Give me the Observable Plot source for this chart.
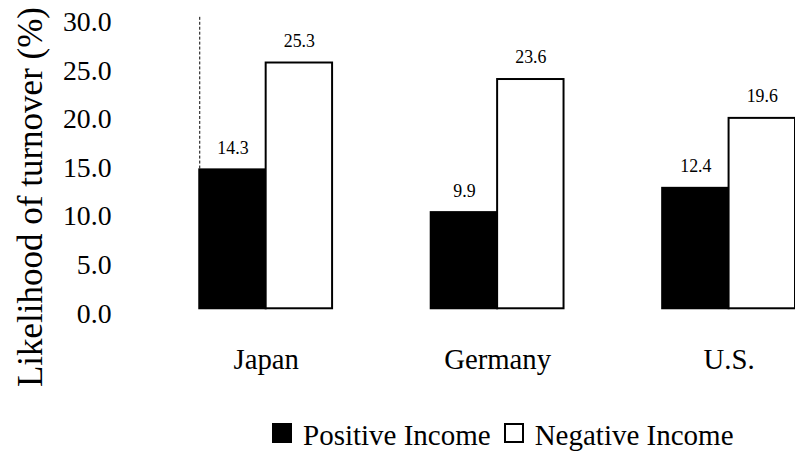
<!DOCTYPE html>
<html><head><meta charset="utf-8">
<script src="https://cdn.jsdelivr.net/npm/d3@7"></script>
<script src="https://cdn.jsdelivr.net/npm/@observablehq/plot@0.6"></script>
<style>
html,body{margin:0;padding:0;background:#fff;overflow:hidden;}
#wrap{position:relative;width:795px;height:456px;overflow:hidden;background:#fff;font-family:"Liberation Serif","Times New Roman",serif;color:#000;}
#legend{position:absolute;left:272px;top:421px;display:flex;align-items:flex-start;font-size:29px;line-height:29px;white-space:nowrap;}
#legend .sw{width:20px;height:20px;margin-top:2px;box-sizing:border-box;border:2px solid #000;}
#legend .lab{margin-left:11px;margin-right:13px;}
#ytitle{position:absolute;left:30px;top:197px;transform:translate(-50%,-50%) rotate(-90deg);font-size:35px;line-height:35px;white-space:nowrap;}
</style></head><body><div id="wrap"><div id="chart"></div><div id="ytitle"></div><div id="legend"></div></div>
<script>
const countries = ["Japan", "Germany", "U.S."];
const seriesNames = ["Positive Income", "Negative Income"];
const positiveIncome = [14.3, 9.9, 12.4];
const negativeIncome = [25.3, 23.6, 19.6];
const yTicks = [0, 5, 10, 15, 20, 25, 30];
const yTitle = "Likelihood of turnover (%)";
const seriesFill = ["#000000", "#ffffff"];

const rows = countries.flatMap((c, i) => [
  {country: c, series: seriesNames[0], value: positiveIncome[i]},
  {country: c, series: seriesNames[1], value: negativeIncome[i]}
]);

const chart = Plot.plot({
  width: 802, height: 400,
  marginLeft: 148, marginRight: 0, marginTop: 17, marginBottom: 89,
  style: {fontFamily: '"Liberation Serif", serif', color: "#000", background: "#fff", overflow: "visible"},
  fx: {domain: countries, paddingInner: 0.4261, paddingOuter: 0.1135, align: 1, round: false, label: null},
  x: {domain: seriesNames, padding: 0, round: false, axis: null},
  y: {domain: [0, 30], axis: null},
  color: {domain: seriesNames, range: seriesFill},
  marks: [
    Plot.frame({anchor: "left", facet: "super", strokeDasharray: "2,3", stroke: "#000"}),
    Plot.axisY(yTicks, {tickSize: 0, tickPadding: 89, tickFormat: d => d.toFixed(1), fontSize: 28, dy: 5, label: null}),
    Plot.axisFx({anchor: "bottom", tickSize: 0, tickPadding: 40, fontSize: 29, label: null}),
    Plot.barY(rows, {fx: "country", x: "series", y: "value", fill: "series", stroke: "#000", strokeWidth: 2}),
    Plot.text(rows, {fx: "country", x: "series", y: "value", text: d => d.value.toFixed(1), dy: -22, fontSize: 18, lineAnchor: "middle"})
  ]
});
document.getElementById("chart").appendChild(chart);

document.getElementById("ytitle").textContent = yTitle;

const legend = document.getElementById("legend");
seriesNames.forEach((name, i) => {
  const sw = document.createElement("div");
  sw.className = "sw";
  sw.style.background = seriesFill[i];
  const lab = document.createElement("span");
  lab.className = "lab";
  lab.textContent = name;
  legend.appendChild(sw);
  legend.appendChild(lab);
});
</script>
</body></html>
